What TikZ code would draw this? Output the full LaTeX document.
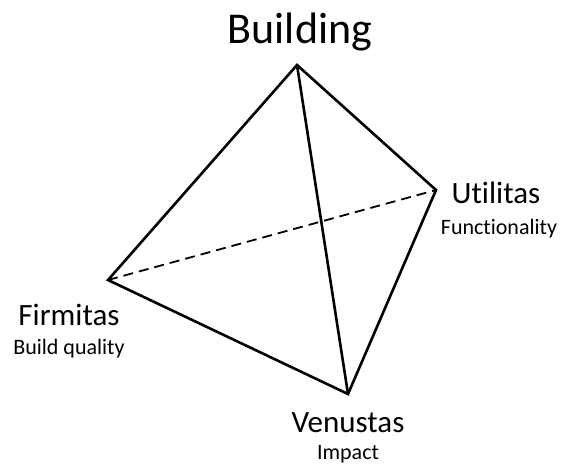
\documentclass[tikz,border=0pt]{standalone}
\usepackage{fontspec}
\setmainfont{Carlito}[Ligatures={NoCommon}]
\tikzset{
  edgeline/.style={line width=2.6pt},
  hiddenline/.style={line width=1.8pt, dash pattern=on 10pt off 6pt},
  toplabel/.style={anchor=base, inner sep=0pt, font=\fontsize{44}{48}\selectfont},
  vertexlabel/.style={anchor=base, inner sep=0pt, font=\fontsize{31}{34}\selectfont},
  sublabel/.style={anchor=base, inner sep=0pt, font=\fontsize{22}{25}\selectfont}
}
\begin{document}
\begin{tikzpicture}[x=1pt,y=-1pt]
\useasboundingbox (0,0) rectangle (562,464);
\coordinate (T) at (297,65);
\coordinate (R) at (436,190);
\coordinate (L) at (108,280);
\coordinate (B) at (348,394);
\draw[hiddenline] (L) -- (R);
\draw[edgeline] (L) -- (T) -- (R) -- (B) -- cycle;
\draw[edgeline] (T) -- (B);
\node[toplabel] (building) at (300,43) {Building};
\node[vertexlabel] (utilitas) at (496,203) {Utilitas};
\node[sublabel] (functionality) at (499,234) {Functionality};
\node[vertexlabel] (firmitas) at (69,325) {Firmitas};
\node[sublabel] (buildq) at (69,354) {Build quality};
\node[vertexlabel] (venustas) at (348,432) {Venustas};
\node[sublabel] (impact) at (348,459) {Impact};
\end{tikzpicture}
\end{document}
